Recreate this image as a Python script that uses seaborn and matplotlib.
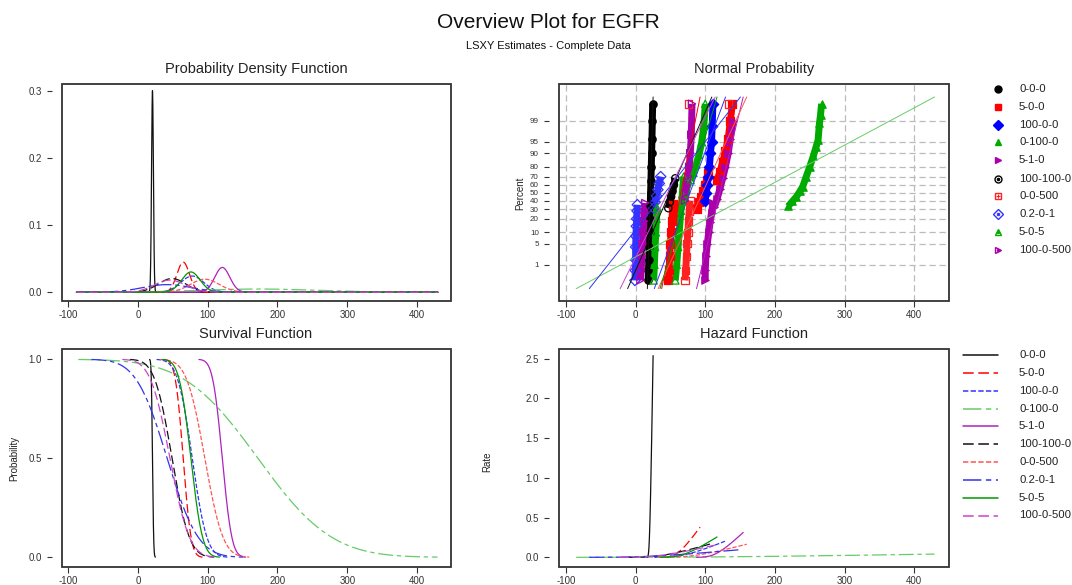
import math
from statistics import NormalDist
import numpy as np
import pandas as pd
import matplotlib
matplotlib.use("Agg")
import matplotlib.pyplot as plt
from matplotlib.lines import Line2D
from matplotlib.patches import Rectangle
import seaborn as sns

# ---------------- data ----------------
groups = ["0-0-0", "5-0-0", "100-0-0", "0-100-0", "5-1-0",
          "100-100-0", "0-0-500", "0.2-0-1", "5-0-5", "100-0-500"]
means = [21, 65, 78, 172, 121, 49, 96, 42, 76, 46]
sds = [1.33, 8.9, 16.5, 83, 10.8, 19.5, 20.5, 35, 13.2, 22]

x_ticks = [-100, 0, 100, 200, 300, 400]
pct_ticks = [1, 5, 10, 20, 30, 40, 50, 60, 70, 80, 90, 95, 99]
pdf_yticks = [0.0, 0.1, 0.2, 0.3]
sf_yticks = [0.0, 0.5, 1.0]
hz_yticks = [0.0, 0.5, 1.0, 1.5, 2.0, 2.5]

nan = float("nan")
# normal probability plot points (x value, percent); nan separates clusters
pts_x_0_0_0 = [18, 18.5, 19, 19.5, 20, 20.5, 21, 21.5, 22, 22.5, 23, 23.5, 24, 24.5]
pts_p_0_0_0 = [0.23, 0.6, 1.5, 4, 10, 20, 35, 50, 65, 80, 90, 96, 99, 99.8]
pts_x_5_0_0 = [47, 48, 49, 50, 51, 52, 53, 54, nan, 88, 91, 94, 97, 100, 104,
               nan, 117, 121, 125, 129, 133, 136, 139]
pts_p_5_0_0 = [0.23, 0.6, 2, 5, 10, 18, 27, 36, nan, 30, 38, 45, 52, 60, 74,
               nan, 66, 75, 84, 91, 96, 99, 99.8]
pts_x_100_0_0 = [100, 101.5, 103, 104.5, 106, 107.5, 109, 110, 111]
pts_p_100_0_0 = [40, 50, 60, 70, 80, 90, 95, 98.5, 99.8]
pts_x_0_100_0 = [219, 225, 231, 236, 240, 245, 250, 255, 259, 262, 264, 265.5, 267]
pts_p_0_100_0 = [33, 39, 45, 52, 58, 70, 80, 88, 93, 95.6, 98.8, 99.4, 99.8]
pts_x_5_1_0 = [100, 100, 101, 103, 105, 107, 109, 111, nan,
               113, 117, 121, 125, 129, 133, 136, 140]
pts_p_5_1_0 = [0.23, 0.6, 2, 5, 10, 17, 26, 37, nan,
               32, 42, 55, 68, 80, 90, 96, 99]
pts_x_100_100_0 = [47, 49, 51, 53, 55, 57]
pts_p_100_100_0 = [31, 38, 45, 52, 60, 68]
pts_x_0_0_500 = [71, 72, 73, 74, 75, 76, 77, 78, nan, 76, nan, 133]
pts_p_0_0_500 = [0.23, 0.6, 2, 5, 10, 18, 28, 40, nan, 99.8, nan, 99.8]
pts_x_0_2_0_1 = [-1, -0.5, 0, 0, 0.5, 1, 1.5, 2, 2.5, nan, 26, 28, 30, 32, 34, 36]
pts_p_0_2_0_1 = [0.23, 0.6, 1.5, 4, 8, 14, 20, 28, 35, nan, 31, 38, 46, 54, 62, 70]
pts_x_5_0_5 = [26, 27, 28, 29, 30, 31, nan, 57, 59, 61, 63, 65, 67, 69,
               nan, 79, 83, 87, 91, 95, 98, 100]
pts_p_5_0_5 = [0.23, 1, 4, 10, 20, 31, nan, 0.23, 1, 4, 12, 28, 48, 70,
               nan, 66, 74, 82, 89, 95, 98.5, 99.8]
pts_x_100_0_500 = [7, 8, 9, 10, 11, 12, 13, 14, nan, 71, 72.5, 74, 75.5, 77, 78.5, 80, 81]
pts_p_100_0_500 = [0.23, 0.6, 2, 5, 10, 18, 27, 37, nan, 40, 50, 60, 70, 80, 90, 97, 99.8]

pts_x = [pts_x_0_0_0, pts_x_5_0_0, pts_x_100_0_0, pts_x_0_100_0, pts_x_5_1_0,
         pts_x_100_100_0, pts_x_0_0_500, pts_x_0_2_0_1, pts_x_5_0_5, pts_x_100_0_500]
pts_p = [pts_p_0_0_0, pts_p_5_0_0, pts_p_100_0_0, pts_p_0_100_0, pts_p_5_1_0,
         pts_p_100_100_0, pts_p_0_0_500, pts_p_0_2_0_1, pts_p_5_0_5, pts_p_100_0_500]

# ---------------- styles ----------------
line_colors = ["#111111", "#FF0000", "#3333FF", "#66CC66", "#B020C0",
               "#111111", "#FF5555", "#3333EE", "#009900", "#CC44CC"]
mark_colors = ["#000000", "#FF0000", "#0000FF", "#00AA00", "#AA00AA",
               "#000000", "#FF2222", "#3333FF", "#00AA00", "#AA00AA"]
line_styles = ["-", (0, (7, 3)), (0, (3.5, 1.5)), (0, (12, 3, 3.5, 3)), "-",
               (0, (7, 3)), (0, (3.5, 1.5)), (0, (12, 3, 3.5, 3)), "-", (0, (7, 3))]
markers = ["o", "s", "D", "^", ">", "o", "s", "D", "^", ">"]
filled = [True, True, True, True, True, False, False, False, False, False]
inner = [None, None, None, None, None, ".", "+", ".", ".", "."]

sns.set_theme(style="white")
plt.rcParams["font.family"] = ["Liberation Sans", "DejaVu Sans"]
plt.rcParams["axes.unicode_minus"] = False

W, H = 1072, 585
fig = plt.figure(figsize=(W / 100, H / 100), dpi=100)


def rect(l, t, r, b):
    return [l / W, 1 - b / H, (r - l) / W, (b - t) / H]


def frame(ax, xlim, ylim, yticks, ylabels, ysize=7):
    ax.set_xlim(*xlim)
    ax.set_ylim(*ylim)
    ax.set_xticks(x_ticks)
    ax.set_xticklabels([str(v) for v in x_ticks])
    ax.set_yticks(yticks)
    ax.set_yticklabels(ylabels)
    for s in ax.spines.values():
        s.set_visible(False)
    ax.spines["left"].set_position(("outward", 7))
    ax.add_patch(Rectangle((0, 0), 1, 1, transform=ax.transAxes, fill=False,
                           lw=1.3, ec="#333333", clip_on=False, zorder=10))
    ax.tick_params(axis="both", direction="out", labelsize=7, colors="#333333",
                   width=0.8, left=True, bottom=True)
    ax.tick_params(axis="x", length=4.5, pad=2)
    ax.tick_params(axis="y", length=3.5, pad=4, labelsize=ysize)
    ax.set_xlabel("")
    ax.set_ylabel("")
    ax.grid(False)


nd = NormalDist()
erf = np.vectorize(math.erf)


def npdf(x, m, s):
    return np.exp(-0.5 * ((x - m) / s) ** 2) / (s * math.sqrt(2 * math.pi))


def nsf(x, m, s):
    return 0.5 * (1 - erf((x - m) / (s * math.sqrt(2))))


ax_pdf = fig.add_axes(rect(62, 84, 451, 301))
ax_np = fig.add_axes(rect(559, 84, 949, 301))
ax_sf = fig.add_axes(rect(62, 349, 451, 567))
ax_hz = fig.add_axes(rect(559, 349, 949, 567))

# ---- PDF ----
xs_all = np.linspace(-88, 430, 3000)
for i, g in enumerate(groups):
    sns.lineplot(x=xs_all, y=npdf(xs_all, means[i], sds[i]), ax=ax_pdf,
                 color=line_colors[i], linewidth=0.9, linestyle=line_styles[i],
                 estimator=None, sort=False)
frame(ax_pdf, (-108.6, 448.6), (-0.013, 0.31), pdf_yticks,
      ["%.1f" % v for v in pdf_yticks])

# ---- Survival & hazard ----
for i, g in enumerate(groups):
    xs = np.linspace(means[i] - 3.1 * sds[i], means[i] + 3.1 * sds[i], 600)
    sf = nsf(xs, means[i], sds[i])
    hz = npdf(xs, means[i], sds[i]) / sf
    sns.lineplot(x=xs, y=sf, ax=ax_sf, color=line_colors[i], linewidth=0.9,
                 linestyle=line_styles[i], estimator=None, sort=False)
    sns.lineplot(x=xs, y=hz, ax=ax_hz, color=line_colors[i], linewidth=0.9,
                 linestyle=line_styles[i], estimator=None, sort=False)
frame(ax_sf, (-108.6, 448.6), (-0.049, 1.052), sf_yticks,
      ["%.1f" % v for v in sf_yticks])
frame(ax_hz, (-110, 450), (-0.122, 2.622), hz_yticks,
      ["%.1f" % v for v in hz_yticks])

# ---- Normal probability ----
z_ticks = [nd.inv_cdf(p / 100) for p in pct_ticks]
for xv in x_ticks:
    ax_np.axvline(xv, color="#BBBBBB", lw=0.9, ls=(0, (5, 3)), zorder=0)
for zv in z_ticks:
    ax_np.axhline(zv, color="#BBBBBB", lw=0.9, ls=(0, (5, 3)), zorder=0)

for i, g in enumerate(groups):
    px = np.array(pts_x[i], dtype=float)
    pz = np.array([nd.inv_cdf(p / 100) if not math.isnan(p) else nan for p in pts_p[i]])
    ax_np.plot(px, pz, color=mark_colors[i], lw=5.0, solid_capstyle="butt", zorder=2)
    ok = ~np.isnan(px)
    sns.scatterplot(x=px[ok], y=pz[ok], ax=ax_np, marker=markers[i], s=28,
                    color=mark_colors[i] if filled[i] else "none",
                    edgecolor=mark_colors[i], linewidth=0.9, zorder=3, legend=False)

for i, g in enumerate(groups):
    zz = np.array([-3.1, 3.1])
    sns.lineplot(x=means[i] + zz * sds[i], y=zz, ax=ax_np, color=line_colors[i],
                 linewidth=0.7, estimator=None, sort=False, zorder=4)
frame(ax_np, (-110, 450), (-3.5, 3.52), z_ticks, [str(p) for p in pct_ticks], ysize=5.8)

# ---- titles and labels ----
fig.text(548 / W, 1 - 22 / H, "Overview Plot for EGFR", ha="center", va="center",
         fontsize=15, color="#111111")
fig.text(548 / W, 1 - 46 / H, "LSXY Estimates - Complete Data", ha="center",
         va="center", fontsize=8, color="#111111")
for cx, cy, t in [(256, 69, "Probability Density Function"), (754, 69, "Normal Probability"),
                  (256, 334, "Survival Function"), (754, 334, "Hazard Function")]:
    fig.text(cx / W, 1 - cy / H, t, ha="center", va="center", fontsize=10.5, color="#222222")
for cx, cy, t in [(520, 193, "Percent"), (14, 458, "Probability"), (487, 462, "Rate")]:
    fig.text(cx / W, 1 - cy / H, t, ha="center", va="center", rotation=90,
             fontsize=7, color="#222222")

# ---- legends ----
mk_rows = [89, 106.7, 124.7, 142.3, 160.3, 178.5, 196.3, 214.3, 232.3, 250.3]
ln_rows = [355, 372.8, 391, 408.8, 426.3, 444.3, 462.3, 479.8, 497.8, 515.5]
for i, g in enumerate(groups):
    y = 1 - mk_rows[i] / H
    fig.add_artist(Line2D([997.5 / W], [y], transform=fig.transFigure, marker=markers[i],
                          markersize=5, color=mark_colors[i], lw=0,
                          markerfacecolor=mark_colors[i] if filled[i] else "none",
                          markeredgewidth=1.0))
    if inner[i]:
        fig.add_artist(Line2D([997.5 / W], [y], transform=fig.transFigure, marker=inner[i],
                              markersize=3.5, color=mark_colors[i], lw=0, markeredgewidth=0.8))
    fig.text(1019 / W, y, g, ha="left", va="center", fontsize=8.2, color="#222222")
    y2 = 1 - ln_rows[i] / H
    fig.add_artist(Line2D([962.5 / W, 997.5 / W], [y2, y2], transform=fig.transFigure,
                          color=line_colors[i], lw=1.1, linestyle=line_styles[i]))
    fig.text(1019 / W, y2, g, ha="left", va="center", fontsize=8.2, color="#222222")

fig.savefig("out.png", dpi=100)
